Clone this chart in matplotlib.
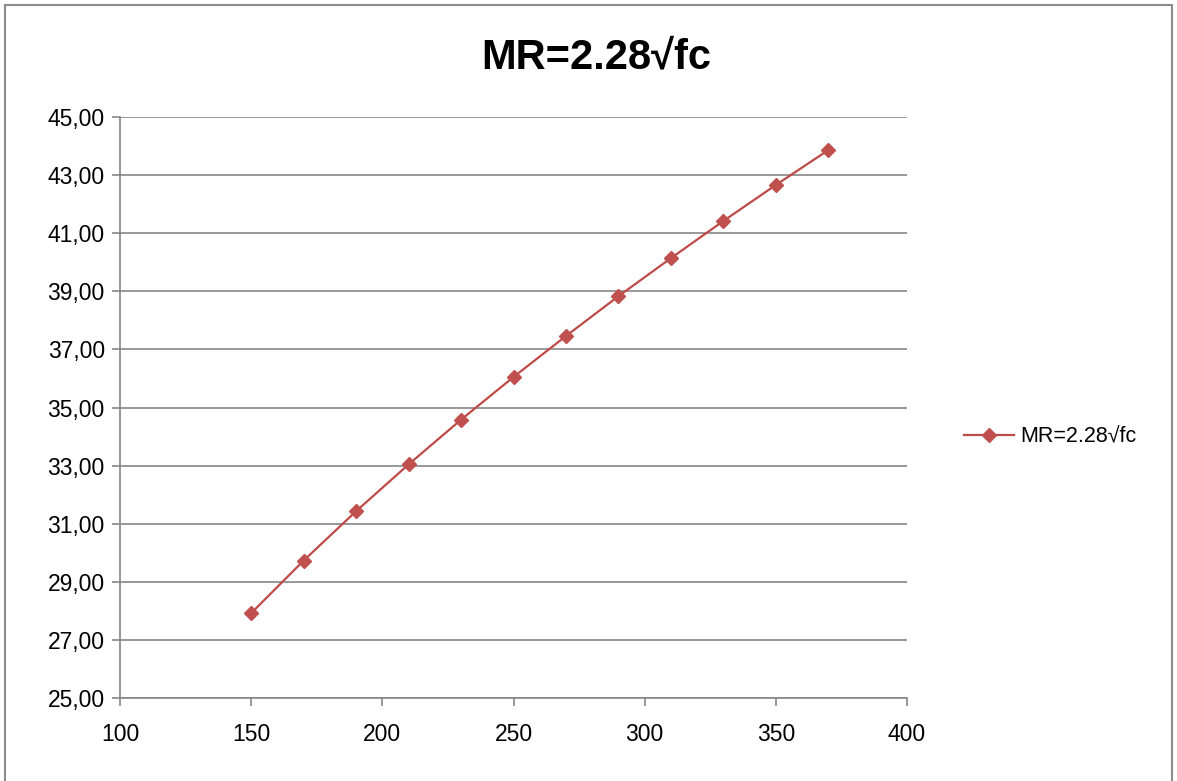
import matplotlib
matplotlib.use("Agg")
import matplotlib.pyplot as plt
from matplotlib.ticker import FuncFormatter, FixedLocator
from matplotlib.patches import Rectangle

fc = [150, 170, 190, 210, 230, 250, 270, 290, 310, 330, 350, 370]
mr = [27.92, 29.73, 31.43, 33.04, 34.58, 36.05, 37.46, 38.83, 40.14, 41.42, 42.66, 43.86]
x_ticks = [100, 150, 200, 250, 300, 350, 400]
y_ticks = [25, 27, 29, 31, 33, 35, 37, 39, 41, 43, 45]
series_name = "MR=2.28√fc"
title = "MR=2.28√fc"

plt.rcParams['font.family'] = ['Liberation Sans', 'DejaVu Sans']

W, H = 1177, 781
fig = plt.figure(figsize=(W / 100, H / 100), dpi=100)
fig.patch.set_facecolor("white")

# outer chart border
fig.patches.append(Rectangle((5 / W, -0.01), (1172 - 5) / W, 1 - 5 / H + 0.01,
                             transform=fig.transFigure, fill=False,
                             edgecolor="#8c8c8c", linewidth=1.5))

ax = fig.add_axes([120 / W, 1 - 698 / H, (907 - 120) / W, (698 - 117) / H])
color = "#BE4B48"
ax.plot(fc, mr, color=color, linewidth=1.6, marker="D", markersize=7,
        markerfacecolor="#C0504D", markeredgecolor="#C0504D", label=series_name)

ax.set_xlim(100, 400)
ax.set_ylim(25, 45)
ax.xaxis.set_major_locator(FixedLocator(x_ticks))
ax.yaxis.set_major_locator(FixedLocator(y_ticks))
ax.yaxis.set_major_formatter(FuncFormatter(lambda v, p: f"{v:.2f}".replace(".", ",")))
ax.grid(axis="y", color="#868686", linewidth=1.2)
ax.set_axisbelow(True)
for s in ["top", "right"]:
    ax.spines[s].set_visible(False)
for s in ["left", "bottom"]:
    ax.spines[s].set_color("#868686")
    ax.spines[s].set_linewidth(1.2)
ax.tick_params(axis="both", colors="#868686", labelcolor="black", labelsize=16.5,
               length=6, width=1.2, direction="out")
ax.tick_params(axis="x", pad=12)
ax.tick_params(axis="y", pad=5)

fig.text(596 / W, 1 - 57 / H, title, ha="center", va="center",
         fontsize=30, fontweight="bold")

leg = ax.legend(loc="center left", bbox_to_anchor=(960 / W, 1 - 437 / H),
                bbox_transform=fig.transFigure, frameon=False, fontsize=15.5,
                handlelength=2.3, handletextpad=0.3, borderpad=0.2,
                borderaxespad=0.0)

fig.savefig("out.png", dpi=100)
